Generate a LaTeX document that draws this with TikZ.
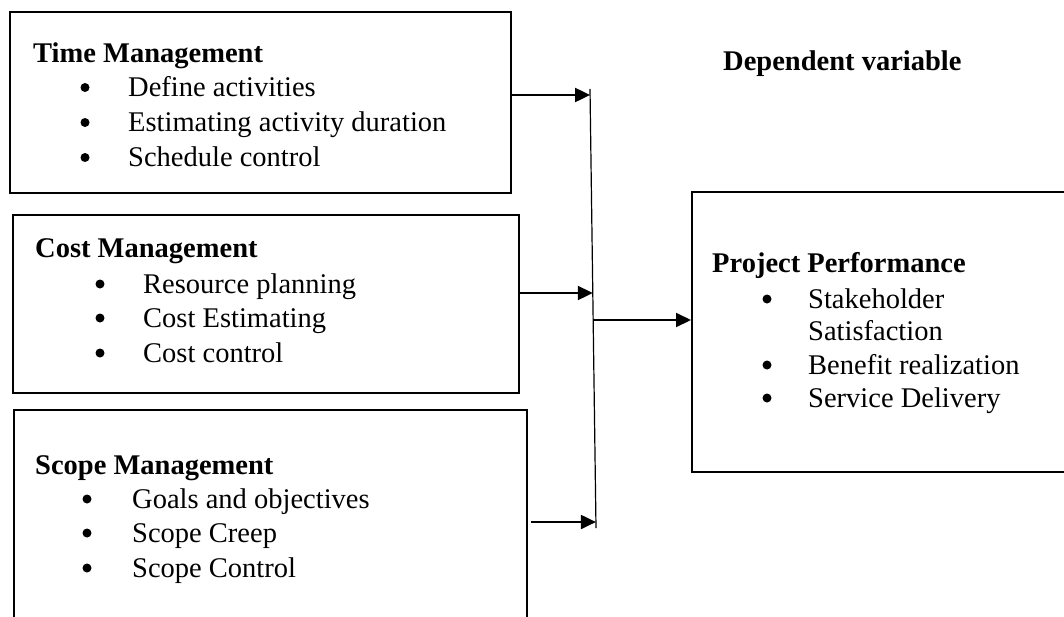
\documentclass[tikz,border=0pt]{standalone}
\usepackage{fontspec}
\setmainfont{Liberation Serif}
\usetikzlibrary{arrows.meta}
\begin{document}
\begin{tikzpicture}[x=1pt,y=-1pt,
  box/.style={draw, line width=2pt, rectangle, inner sep=0pt},
  ttl/.style={anchor=base west, inner sep=0pt, font=\fontsize{28.5}{34}\selectfont\bfseries},
  itm/.style={anchor=base west, inner sep=0pt, font=\fontsize{28.5}{34}\selectfont},
  bul/.style={circle, fill=black, inner sep=0pt, minimum size=9pt},
  arr/.style={line width=2pt, -{Triangle[length=15pt,width=14pt]}},
  vline/.style={line width=1.2pt},
]
\useasboundingbox (0,0) rectangle (1064,616);
\clip (0,0) rectangle (1064,616);

% boxes
\node[box, minimum width=501pt, minimum height=181pt] (tbox) at (260.5,102.5) {};
\node[box, minimum width=506pt, minimum height=178pt] (cbox) at (266,304) {};
\node[box, minimum width=513pt, minimum height=230pt] (sbox) at (270.5,525) {};
\node[box, minimum width=400pt, minimum height=280pt] (pbox) at (892,332) {};

% Time Management
\node[ttl] (t0) at (33,62) {Time Management};
\node[bul] (tb1) at (85,87.5) {};
\node[itm] (t1) at (128,96.5) {Define activities};
\node[bul] (tb2) at (85,122.5) {};
\node[itm] (t2) at (128,131.5) {Estimating activity duration};
\node[bul] (tb3) at (85,157.5) {};
\node[itm] (t3) at (128,166.5) {Schedule control};

% Cost Management
\node[ttl] (c0) at (35,257) {Cost Management};
\node[bul] (cb1) at (100,284) {};
\node[itm] (c1) at (143,293) {Resource planning};
\node[bul] (cb2) at (100,318) {};
\node[itm] (c2) at (143,327) {Cost Estimating};
\node[bul] (cb3) at (100,353) {};
\node[itm] (c3) at (143,362) {Cost control};

% Scope Management
\node[ttl] (s0) at (35,474) {Scope Management};
\node[bul] (sb1) at (87,499) {};
\node[itm] (s1) at (132,508) {Goals and objectives};
\node[bul] (sb2) at (87,533) {};
\node[itm] (s2) at (132,542) {Scope Creep};
\node[bul] (sb3) at (87,568) {};
\node[itm] (s3) at (132,577) {Scope Control};

% Project Performance
\node[ttl] (p0) at (712,272) {Project Performance};
\node[bul] (pb1) at (767,299) {};
\node[itm] (p1) at (808,308) {Stakeholder};
\node[itm] (p2) at (808,340) {Satisfaction};
\node[bul] (pb3) at (767,365) {};
\node[itm] (p3) at (808,374) {Benefit realization};
\node[bul] (pb4) at (767,398) {};
\node[itm] (p4) at (808,407) {Service Delivery};

% Dependent variable
\node[ttl] (dv) at (723,70) {Dependent variable};

% connector spine
\coordinate (vt) at (590,89);
\coordinate (vb) at (596,528);
\draw[vline] (vt) -- (vb);
\coordinate (a1) at (590.1,95);
\coordinate (a2) at (592.8,293);
\coordinate (a3) at (595.9,522);
\coordinate (m) at (594,320);

\draw[arr] (tbox.east |- a1) -- (a1);
\draw[arr] (cbox.east |- a2) -- (a2);
\draw[arr, shorten <=3pt] (sbox.east |- a3) -- (a3);
\draw[arr] (m) -- (pbox.west |- m);
\end{tikzpicture}
\end{document}
